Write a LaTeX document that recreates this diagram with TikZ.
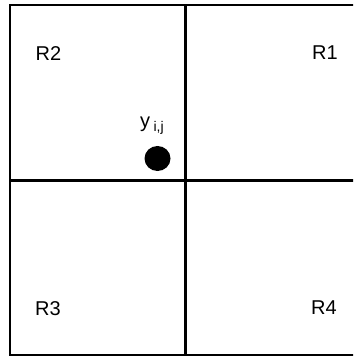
\documentclass[tikz,border=0pt]{standalone}
\usepackage{fontspec}
\setmainfont{Liberation Sans}
\begin{document}
\begin{tikzpicture}[x=1pt,y=-1pt,
  outer/.style={line width=2pt},
  inner/.style={line width=3pt},
  lbl/.style={font=\fontsize{20}{22}\selectfont, inner sep=0pt}]
\useasboundingbox (0,0) rectangle (353,358);
\clip (0,0) rectangle (353,358);
\draw[outer] (360,5) -- (10,5) -- (10,354.5) -- (360,354.5);
\draw[inner] (185,5) -- (185,354.5);
\draw[inner] (10,180) -- (360,180);
\node[lbl] (r2) at (48.5,53.5) {R2};
\node[lbl] (r1) at (325,52.5) {R1};
\node[lbl] (r3) at (48,309) {R3};
\node[lbl] (r4) at (324,308) {R4};
\fill (157.5,158.5) circle[x radius=13, y radius=12.5];
\node[lbl, anchor=base west] (y) at (140,128) {y\,\raisebox{-0.3ex}{\fontsize{14}{16}\selectfont i,j}};
\end{tikzpicture}
\end{document}
